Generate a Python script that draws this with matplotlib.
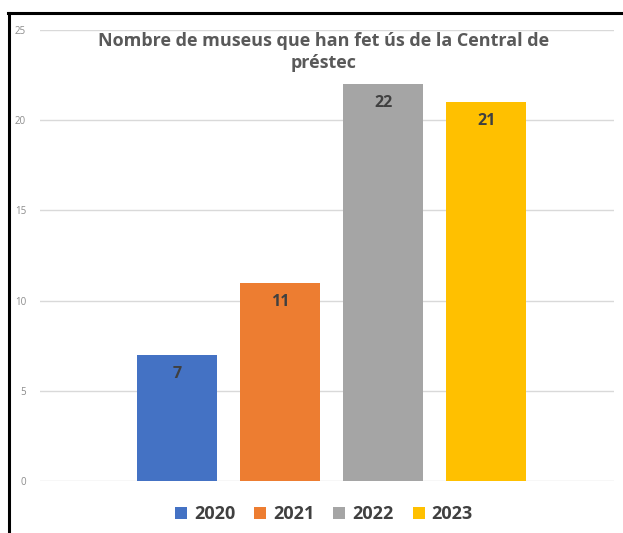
import matplotlib
matplotlib.use("Agg")
import matplotlib.pyplot as plt
from matplotlib.lines import Line2D
from matplotlib.patches import Patch

years = ["2020", "2021", "2022", "2023"]
values = [7, 11, 22, 21]
colors = ["#4472C4", "#ED7D31", "#A5A5A5", "#FFC000"]
yticks = [0, 5, 10, 15, 20, 25]
title = "Nombre de museus que han fet ús de la Central de\npréstec"

plt.rcParams['font.family'] = ['Open Sans', 'DejaVu Sans']

fig = plt.figure(figsize=(6.23, 5.33), dpi=100)
ax = fig.add_axes([40/623, 1-481/533, (614-40)/623, (481-30)/533])

x = list(range(len(years)))
bars = ax.bar(x, values, width=0.78, color=colors, zorder=3)
for xi, v in zip(x, values):
    ax.text(xi, v - 1.05, str(v), ha='center', va='center', fontsize=11.5,
            fontweight='bold', color='#404040', zorder=4)

ax.set_xlim(-1.33, 4.24)
ax.set_ylim(0, 25)
ax.set_yticks(yticks)
ax.set_yticklabels([str(t) for t in yticks], fontsize=7, color='#8C8C8C')
ax.tick_params(axis='y', length=0, pad=10)
ax.set_xticks([])
ax.grid(axis='y', color='#D9D9D9', linewidth=1, zorder=0)
for s in ax.spines.values():
    s.set_visible(False)

fig.text(324/623, 1-52/533, title, ha='center', va='center', fontsize=13,
         fontweight='bold', color='#595959', linespacing=1.3)

handles = [Patch(facecolor=c, edgecolor='none') for c in colors]
leg = fig.legend(handles, years, loc='center', bbox_to_anchor=(324/623, 1-514/533),
                 ncol=4, frameon=False, handlelength=0.65, handleheight=0.65,
                 handletextpad=0.4, columnspacing=1.05,
                 prop={'size': 13, 'weight': 'bold'})
for t in leg.get_texts():
    t.set_color('#404040')

fig.add_artist(Line2D([8/623, 1], [1-13/533, 1-13/533], transform=fig.transFigure,
                      color='black', linewidth=2.2))
fig.add_artist(Line2D([9/623, 9/623], [0, 1-13/533], transform=fig.transFigure,
                      color='black', linewidth=2.2))

fig.savefig("out.png", dpi=100)
